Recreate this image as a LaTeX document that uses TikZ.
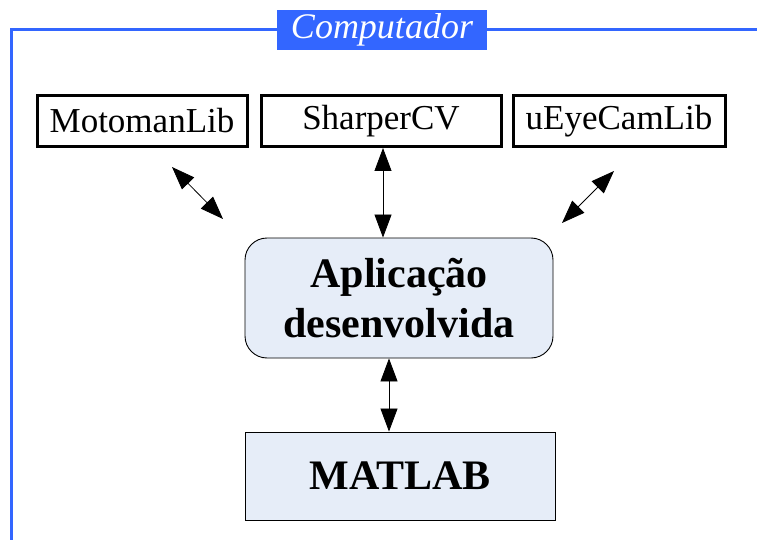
\documentclass[tikz,border=0pt]{standalone}
\usepackage{fontspec}
\setmainfont{Liberation Serif}
\usepackage{xcolor}
\usepackage{tikz}
\usetikzlibrary{positioning,arrows.meta}

\definecolor{azul}{HTML}{3366FF}
\definecolor{caixa}{HTML}{E6EDF8}

\begin{document}
\begin{tikzpicture}[x=1pt,y=-1pt,
	lib/.style={draw,line width=3pt,minimum height=51pt,inner sep=0pt,
		font=\fontsize{35}{40}\selectfont},
	bloco/.style={draw,line width=0.9pt,fill=caixa,align=center,inner sep=0pt,
		font=\fontsize{42}{50}\selectfont\bfseries},
	dupla/.style={{Triangle[length=23pt,width=17pt]}-{Triangle[length=23pt,width=17pt]},line width=0.8pt}]
	\useasboundingbox (0,0) rectangle (757,540);
	% moldura do computador
	\draw[azul,line width=3pt] (11,540) -- (11,30) -- (757,30);
	\node[fill=azul,text=white,minimum width=210pt,minimum height=40pt,inner sep=0pt,
		font=\fontsize{36}{40}\selectfont\itshape] (titulo) at (382,30) {Computador};
	% bibliotecas
	\node[lib,minimum width=210pt] (moto) at (142,121) {MotomanLib};
	\node[lib,minimum width=240pt] (sharp) at (381,121) {SharperCV};
	\node[lib,minimum width=212pt] (ueye) at (619,121) {uEyeCamLib};
	% aplicacao e matlab
	\node[bloco,rounded corners=22pt,minimum width=308pt,minimum height=120pt] (app) at (399,298) {Aplicação\\desenvolvida};
	\node[bloco,minimum width=310pt,minimum height=88pt] (matlab) at (400,476) {MATLAB};
	% setas
	\coordinate (m1) at (172,167);
	\coordinate (m2) at (223,219);
	\coordinate (u1) at (614,171);
	\coordinate (u2) at (562,223);
	\draw[dupla] (m1) -- (m2);
	\draw[dupla] (u1) -- (u2);
	\draw[dupla] ([xshift=2pt]sharp.south) -- ([xshift=2pt]sharp.south |- app.north);
	\draw[dupla] ([xshift=-10pt]app.south) -- ([xshift=-10pt]app.south |- matlab.north);
\end{tikzpicture}
\end{document}
